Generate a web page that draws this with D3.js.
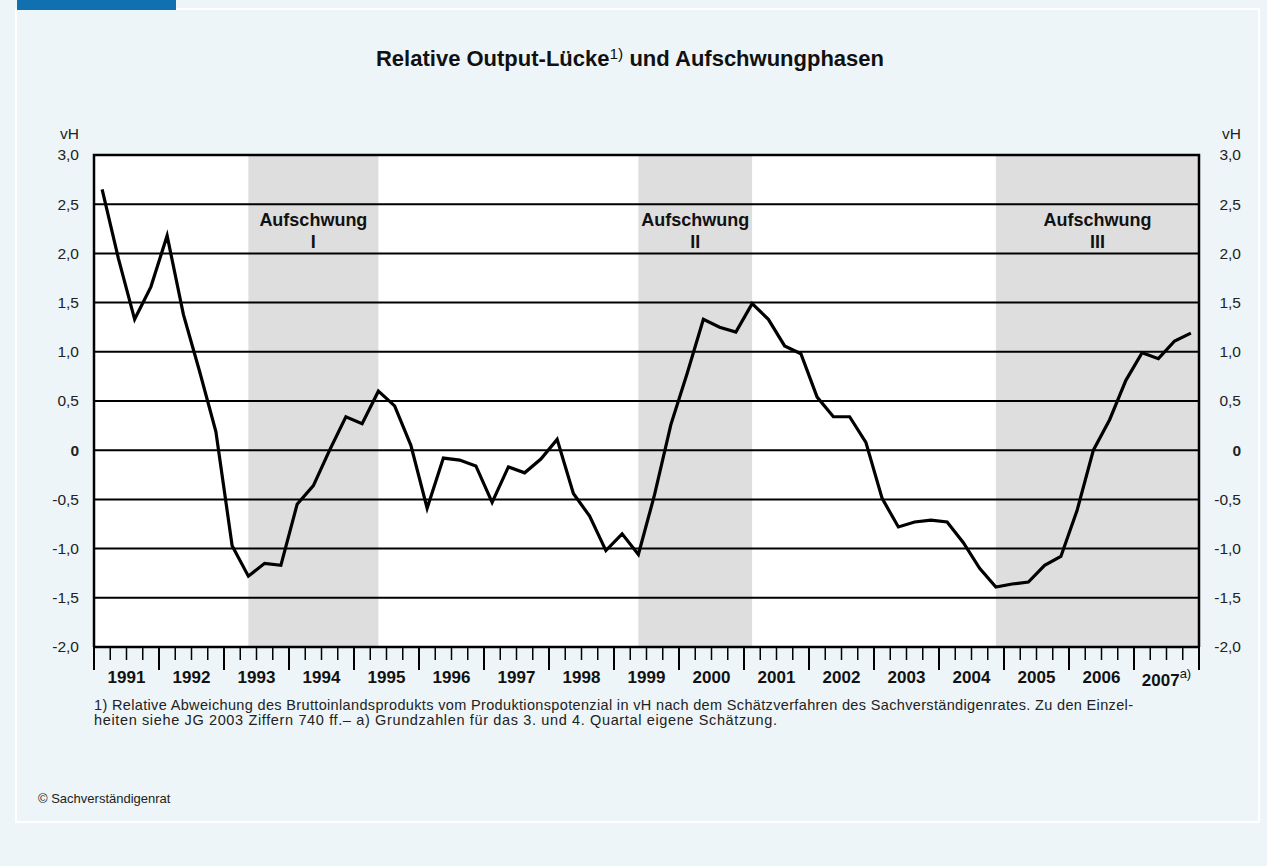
<!DOCTYPE html>
<html>
<head>
<meta charset="utf-8">
<script src="https://cdn.jsdelivr.net/npm/d3@7"></script>
<style>
  body { margin: 0; background: #edf5f8; }
  svg { display: block; font-family: "Liberation Sans", Arial, sans-serif; }
</style>
</head>
<body>
<svg width="1267" height="866"></svg>
<script>
const width = 1267;
const height = 866;

const svg = d3.select('svg');

// quarterly values 1991 Q1 .. 2007 Q4, relative output gap in vH
const years = d3.range(1991, 2008);
const gap = [
  2.65, 1.95, 1.33, 1.66, 2.18, 1.38, 0.80, 0.19,
  -0.97, -1.28, -1.15, -1.17, -0.55, -0.36, 0.00, 0.34,
  0.27, 0.60, 0.45, 0.05, -0.59, -0.08, -0.10, -0.16,
  -0.53, -0.17, -0.23, -0.09, 0.11, -0.44, -0.67, -1.02,
  -0.85, -1.06, -0.45, 0.26, 0.78, 1.33, 1.25, 1.20,
  1.49, 1.33, 1.06, 0.98, 0.54, 0.34, 0.34, 0.08,
  -0.49, -0.78, -0.73, -0.71, -0.73, -0.94, -1.20, -1.39,
  -1.36, -1.34, -1.17, -1.08, -0.61, 0.00, 0.31, 0.71,
  0.99, 0.93, 1.11, 1.19
];
const yTicks = [3.0, 2.5, 2.0, 1.5, 1.0, 0.5, 0, -0.5, -1.0, -1.5, -2.0];
const gridValues = [2.5, 2.0, 1.5, 1.0, 0.5, 0, -0.5, -1.0, -1.5];
// upswing phases as quarter positions on the x scale
const phases = [
  { name: 'Aufschwung', num: 'I', from: 9.5, to: 17.5 },
  { name: 'Aufschwung', num: 'II', from: 33.5, to: 40.5 },
  { name: 'Aufschwung', num: 'III', from: 55.5, to: 68 }
];

const margin = { left: 94, right: 68, top: 155, bottom: 219 };
const innerWidth = width - margin.left - margin.right;
const innerHeight = height - margin.top - margin.bottom;

const fmt = v => v === 0 ? '0' : d3.format('.1f')(v).replace('.', ',').replace('\u2212', '-');

// outer panel
svg.append('rect')
    .attr('x', 16).attr('y', 9)
    .attr('width', 1243).attr('height', 813)
    .attr('fill', '#edf5f8')
    .attr('stroke', '#ffffff')
    .attr('stroke-width', 2);
svg.append('rect')
    .attr('x', 17).attr('y', 0)
    .attr('width', 159).attr('height', 10)
    .attr('fill', '#1170b0');

// title
const title = svg.append('text')
    .attr('x', 630).attr('y', 66)
    .attr('text-anchor', 'middle')
    .attr('font-size', 22)
    .attr('font-weight', 'bold')
    .attr('fill', '#111');
title.append('tspan').text('Relative Output-Lücke');
title.append('tspan').text('1)').attr('font-weight', 'normal').attr('font-size', 15.5).attr('dy', -7);
title.append('tspan').text(' und Aufschwungphasen').attr('dy', 7);

const xScale = d3.scaleLinear()
    .domain([0, years.length * 4])
    .range([0, innerWidth]);

const yScale = d3.scaleLinear()
    .domain([-2, 3])
    .range([innerHeight, 0]);

const g = svg.append('g')
    .attr('transform', 'translate(' + margin.left + ',' + margin.top + ')');

g.append('rect')
    .attr('width', innerWidth).attr('height', innerHeight)
    .attr('fill', '#ffffff');

g.selectAll('.phase')
    .data(phases)
    .enter().append('rect')
    .attr('class', 'phase')
    .attr('x', d => xScale(d.from))
    .attr('width', d => xScale(d.to) - xScale(d.from))
    .attr('y', 0)
    .attr('height', innerHeight)
    .attr('fill', '#dedede');

g.selectAll('.grid')
    .data(gridValues)
    .enter().append('line')
    .attr('class', 'grid')
    .attr('x1', 0).attr('x2', innerWidth)
    .attr('y1', d => yScale(d)).attr('y2', d => yScale(d))
    .attr('stroke', '#000')
    .attr('stroke-width', 2);

const labels = g.selectAll('.phase-label')
    .data(phases)
    .enter().append('text')
    .attr('class', 'phase-label')
    .attr('x', d => (xScale(d.from) + xScale(d.to)) / 2)
    .attr('y', 71)
    .attr('text-anchor', 'middle')
    .attr('font-size', 18)
    .attr('font-weight', 'bold')
    .attr('fill', '#111');
labels.append('tspan').text(d => d.name);
labels.append('tspan')
    .attr('x', d => (xScale(d.from) + xScale(d.to)) / 2)
    .attr('dy', 22)
    .text(d => d.num);

// line
const line = d3.line()
    .x((d, i) => xScale(i + 0.5))
    .y(d => yScale(d));

g.append('path')
    .datum(gap)
    .attr('d', line)
    .attr('fill', 'none')
    .attr('stroke', '#000')
    .attr('stroke-width', 3.2)
    .attr('stroke-linejoin', 'miter');

// frame
g.append('path')
    .attr('d', 'M0,' + innerHeight + 'V0H' + innerWidth + 'V' + innerHeight)
    .attr('fill', 'none')
    .attr('stroke', '#000')
    .attr('stroke-width', 2.5);

// y axes both sides, labels right-aligned
const yLeft = d3.axisLeft(yScale).tickValues(yTicks).tickSize(0).tickPadding(15).tickFormat(fmt);
const yRight = d3.axisLeft(yScale).tickValues(yTicks).tickSize(0).tickPadding(0).tickFormat(fmt);

const yLeftG = g.append('g').call(yLeft);
const yRightG = g.append('g').attr('transform', 'translate(' + (innerWidth + 42) + ',0)').call(yRight);
[yLeftG, yRightG].forEach(ax => {
    ax.select('.domain').remove();
    ax.selectAll('text')
        .attr('font-size', 15.5)
        .attr('fill', '#222')
        .attr('font-family', '"Liberation Sans", Arial, sans-serif')
        .attr('font-weight', d => d === 0 ? 'bold' : 'normal');
});
g.append('text').text('vH').attr('x', -15).attr('y', -16)
    .attr('text-anchor', 'end').attr('font-size', 15.5).attr('fill', '#222');
g.append('text').text('vH').attr('x', innerWidth + 42).attr('y', -16)
    .attr('text-anchor', 'end').attr('font-size', 15.5).attr('fill', '#222');

// x axis with quarter ticks
const xAxisG = g.append('g').attr('transform', 'translate(0,' + innerHeight + ')');
xAxisG.append('line')
    .attr('x1', 0).attr('x2', innerWidth)
    .attr('stroke', '#000').attr('stroke-width', 2.5);
xAxisG.selectAll('.qtick')
    .data(d3.range(0, years.length * 4 + 1))
    .enter().append('line')
    .attr('x1', d => xScale(d)).attr('x2', d => xScale(d))
    .attr('y1', 0)
    .attr('y2', d => d % 4 === 0 ? 23 : 13)
    .attr('stroke', '#000')
    .attr('stroke-width', d => d % 4 === 0 ? 2 : 1.5);

const yearText = xAxisG.selectAll('.year')
    .data(years)
    .enter().append('text')
    .attr('x', (d, i) => xScale(i * 4 + 2))
    .attr('y', d => d === 2007 ? 39 : 36)
    .attr('text-anchor', 'middle')
    .attr('font-size', 17)
    .attr('font-weight', 'bold')
    .attr('fill', '#111');
yearText.append('tspan').text(d => d);
yearText.filter(d => d === 2007).append('tspan')
    .text('a)').attr('font-size', 13).attr('font-weight', 'normal').attr('dy', -8);

// notes
const note = svg.append('text')
    .attr('x', 94).attr('y', 710)
    .attr('font-size', 14.5)
    .attr('fill', '#222');
note.append('tspan')
    .attr('textLength', 1039).attr('lengthAdjust', 'spacing')
    .text('1) Relative Abweichung des Bruttoinlandsprodukts vom Produktionspotenzial in vH nach dem Schätzverfahren des Sachverständigenrates. Zu den Einzel-');
note.append('tspan').attr('x', 94).attr('dy', 15)
    .attr('textLength', 683).attr('lengthAdjust', 'spacing')
    .text('heiten siehe JG 2003 Ziffern 740 ff.– a) Grundzahlen für das 3. und 4. Quartal eigene Schätzung.');

svg.append('text')
    .attr('x', 38).attr('y', 803)
    .attr('font-size', 13)
    .attr('fill', '#222')
    .text('© Sachverständigenrat');
</script>
</body>
</html>
